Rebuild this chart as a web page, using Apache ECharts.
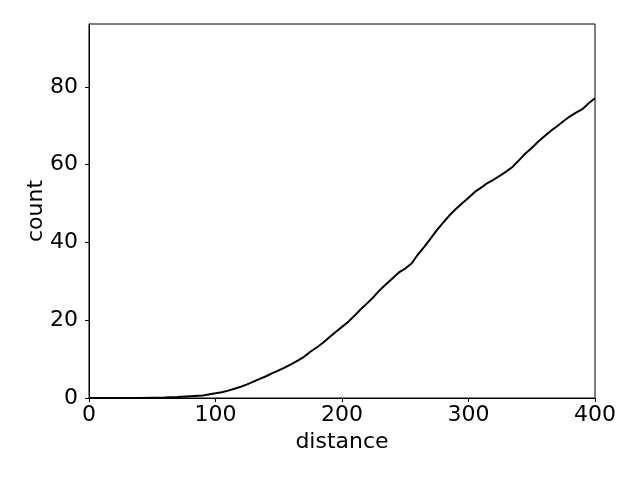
<!DOCTYPE html>
<html>
<head>
<meta charset="utf-8">
<script src="https://cdn.jsdelivr.net/npm/echarts@6/dist/echarts.min.js"></script>
<style>
  html, body { margin: 0; padding: 0; background: #fff; }
  #main { width: 640px; height: 480px; }
</style>
</head>
<body>
<div id="main"></div>
<script>
// distance values (x) and cumulative count (y)
var distance = [0, 10, 20, 30, 40, 50, 60, 70, 80, 90, 100, 105, 110, 115, 120, 125, 130, 135, 140, 145,
  150, 155, 160, 165, 170, 175, 180, 185, 190, 195, 200, 205, 210, 215, 220, 225, 230, 235, 240, 245,
  250, 255, 260, 265, 270, 275, 280, 285, 290, 295, 300, 305, 310, 315, 320, 325, 330, 335, 340, 345,
  350, 355, 360, 365, 370, 375, 380, 385, 390, 395, 400];
var count = [0, 0, 0, 0, 0, 0.05, 0.1, 0.25, 0.45, 0.65, 1.2, 1.5, 1.9, 2.4, 2.9, 3.5, 4.2, 4.9, 5.6, 6.4,
  7.1, 7.9, 8.7, 9.6, 10.6, 11.9, 13.0, 14.2, 15.6, 17.0, 18.3, 19.6, 21.2, 22.9, 24.4, 26.0, 27.8, 29.3, 30.8, 32.3,
  33.3, 34.6, 36.9, 38.9, 41.0, 43.2, 45.1, 47.0, 48.6, 50.1, 51.5, 53.0, 54.1, 55.3, 56.2, 57.2, 58.3, 59.5, 61.2, 62.9,
  64.3, 65.9, 67.3, 68.7, 69.9, 71.2, 72.4, 73.4, 74.3, 75.8, 77.1];
var xTicks = [0, 100, 200, 300, 400];
var yTicks = [0, 20, 40, 60, 80];

var points = [];
for (var i = 0; i < distance.length; i++) {
  points.push([distance[i], count[i]]);
}

var font = 'DejaVu Sans';
var myChart = echarts.init(document.getElementById('main'), null, { renderer: 'canvas' });
var option = {
  animation: false,
  backgroundColor: '#fff',
  grid: {
    left: 89, right: 45, top: 24, bottom: 82,
    show: true, borderColor: '#000', borderWidth: 1, backgroundColor: 'transparent'
  },
  xAxis: {
    type: 'value',
    min: 0, max: 400, interval: 100,
    name: 'distance', nameLocation: 'middle', nameGap: 33, nameMoveOverlap: false,
    nameTextStyle: { color: '#000', fontFamily: font, fontSize: 22 },
    axisLine: { show: true, onZero: false, lineStyle: { color: '#000', width: 1 } },
    axisTick: { show: true, inside: false, length: 4, lineStyle: { color: '#000' } },
    axisLabel: {
      color: '#000', fontFamily: font, fontSize: 22, margin: 6,
      formatter: function (v) { return xTicks.indexOf(v) >= 0 ? String(v) : ''; }
    },
    splitLine: { show: false }
  },
  yAxis: {
    type: 'value',
    min: 0, max: 96.2, interval: 20,
    name: 'count', nameLocation: 'middle', nameGap: 42, nameRotate: 90, nameMoveOverlap: false,
    nameTextStyle: { color: '#000', fontFamily: font, fontSize: 22 },
    axisLine: { show: true, onZero: false, lineStyle: { color: '#000', width: 1 } },
    axisTick: { show: true, inside: false, length: 4, lineStyle: { color: '#000' } },
    axisLabel: {
      color: '#000', fontFamily: font, fontSize: 22, margin: 11,
      showMaxLabel: false,
      formatter: function (v) { return yTicks.indexOf(v) >= 0 ? String(v) : ''; }
    },
    splitLine: { show: false }
  },
  series: [{
    type: 'line',
    data: points,
    showSymbol: false,
    smooth: false,
    lineStyle: { color: '#000', width: 2 },
    itemStyle: { color: '#000' }
  }]
};
myChart.setOption(option);
</script>
</body>
</html>
